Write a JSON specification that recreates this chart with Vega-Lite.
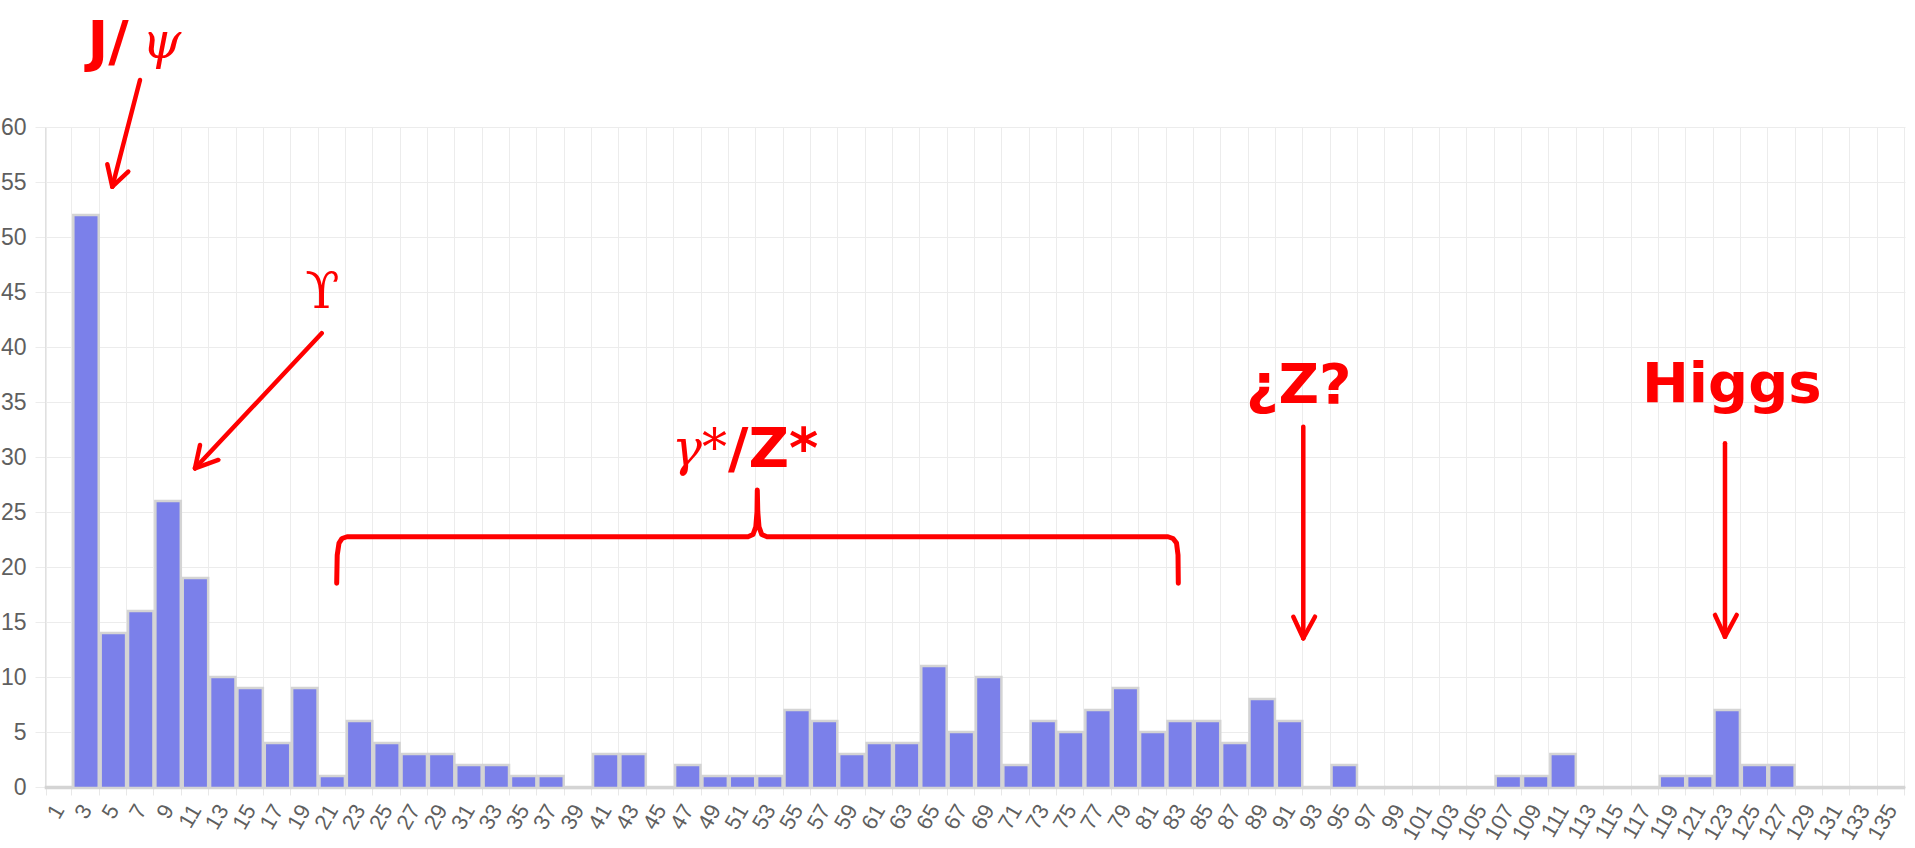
{
  "$schema": "https://vega.github.io/schema/vega-lite/v6.json",
  "width": 1860,
  "height": 660,
  "autosize": {"type": "none"},
  "padding": {"left": 45, "top": 127, "right": 10, "bottom": 61},
  "background": "white",
  "config": {
    "view": {"stroke": null},
    "font": "Liberation Sans"
  },
  "datasets": {
    "counts": [
      {"mass": 1, "count": 0}, {"mass": 3, "count": 52}, {"mass": 5, "count": 14}, {"mass": 7, "count": 16},
      {"mass": 9, "count": 26}, {"mass": 11, "count": 19}, {"mass": 13, "count": 10}, {"mass": 15, "count": 9},
      {"mass": 17, "count": 4}, {"mass": 19, "count": 9}, {"mass": 21, "count": 1}, {"mass": 23, "count": 6},
      {"mass": 25, "count": 4}, {"mass": 27, "count": 3}, {"mass": 29, "count": 3}, {"mass": 31, "count": 2},
      {"mass": 33, "count": 2}, {"mass": 35, "count": 1}, {"mass": 37, "count": 1}, {"mass": 39, "count": 0},
      {"mass": 41, "count": 3}, {"mass": 43, "count": 3}, {"mass": 45, "count": 0}, {"mass": 47, "count": 2},
      {"mass": 49, "count": 1}, {"mass": 51, "count": 1}, {"mass": 53, "count": 1}, {"mass": 55, "count": 7},
      {"mass": 57, "count": 6}, {"mass": 59, "count": 3}, {"mass": 61, "count": 4}, {"mass": 63, "count": 4},
      {"mass": 65, "count": 11}, {"mass": 67, "count": 5}, {"mass": 69, "count": 10}, {"mass": 71, "count": 2},
      {"mass": 73, "count": 6}, {"mass": 75, "count": 5}, {"mass": 77, "count": 7}, {"mass": 79, "count": 9},
      {"mass": 81, "count": 5}, {"mass": 83, "count": 6}, {"mass": 85, "count": 6}, {"mass": 87, "count": 4},
      {"mass": 89, "count": 8}, {"mass": 91, "count": 6}, {"mass": 93, "count": 0}, {"mass": 95, "count": 2},
      {"mass": 97, "count": 0}, {"mass": 99, "count": 0}, {"mass": 101, "count": 0}, {"mass": 103, "count": 0},
      {"mass": 105, "count": 0}, {"mass": 107, "count": 1}, {"mass": 109, "count": 1}, {"mass": 111, "count": 3},
      {"mass": 113, "count": 0}, {"mass": 115, "count": 0}, {"mass": 117, "count": 0}, {"mass": 119, "count": 1},
      {"mass": 121, "count": 1}, {"mass": 123, "count": 7}, {"mass": 125, "count": 2}, {"mass": 127, "count": 2},
      {"mass": 129, "count": 0}, {"mass": 131, "count": 0}, {"mass": 133, "count": 0}, {"mass": 135, "count": 0}
    ],
    "arrows": [
      {"x1": 3.473, "y1": 64.27, "x2": 2.460, "y2": 54.57},
      {"x1": 2.278, "y1": 56.61, "x2": 2.460, "y2": 54.57},
      {"x1": 3.045, "y1": 55.94, "x2": 2.460, "y2": 54.57},
      {"x1": 10.116, "y1": 41.25, "x2": 5.484, "y2": 28.97},
      {"x1": 5.667, "y1": 31.09, "x2": 5.484, "y2": 28.97},
      {"x1": 6.336, "y1": 29.73, "x2": 5.484, "y2": 28.97},
      {"x1": 46.002, "y1": 32.75, "x2": 46.002, "y2": 13.52},
      {"x1": 45.637, "y1": 15.48, "x2": 46.002, "y2": 13.52},
      {"x1": 46.430, "y1": 15.48, "x2": 46.002, "y2": 13.52},
      {"x1": 61.419, "y1": 31.25, "x2": 61.419, "y2": 13.66},
      {"x1": 61.054, "y1": 15.64, "x2": 61.419, "y2": 13.66},
      {"x1": 61.847, "y1": 15.64, "x2": 61.419, "y2": 13.66}
    ],
    "bracket": [
      {"i": 1, "x": 10.664, "y": 18.52}, {"i": 2, "x": 10.683, "y": 21.09}, {"i": 3, "x": 10.748, "y": 22.18},
      {"i": 4, "x": 10.858, "y": 22.59}, {"i": 5, "x": 11.041, "y": 22.75}, {"i": 6, "x": 25.701, "y": 22.75},
      {"i": 7, "x": 25.884, "y": 22.95}, {"i": 8, "x": 25.986, "y": 23.64}, {"i": 9, "x": 26.030, "y": 25.0},
      {"i": 10, "x": 26.041, "y": 27.0}, {"i": 11, "x": 26.059, "y": 25.0}, {"i": 12, "x": 26.103, "y": 23.64},
      {"i": 13, "x": 26.205, "y": 22.95}, {"i": 14, "x": 26.396, "y": 22.75}, {"i": 15, "x": 41.056, "y": 22.75},
      {"i": 16, "x": 41.239, "y": 22.59}, {"i": 17, "x": 41.367, "y": 22.18}, {"i": 18, "x": 41.422, "y": 21.09},
      {"i": 19, "x": 41.433, "y": 18.52}
    ],
    "hand": [
      {"label": "J/", "x": 1.55, "y": 66.09},
      {"label": "/Z*", "x": 24.97, "y": 29.09},
      {"label": "¿Z?", "x": 43.907, "y": 34.91},
      {"label": "Higgs", "x": 58.385, "y": 35.0}
    ],
    "mathItalic": [
      {"label": "ψ", "x": 3.55, "y": 66.27},
      {"label": "γ*", "x": 22.923, "y": 29.27}
    ],
    "mathUpright": [
      {"label": "ϒ", "x": 10.145, "y": 43.55}
    ]
  },
  "layer": [
    {
      "data": {"name": "counts"},
      "mark": {"type": "bar", "fill": "#7b80ea", "stroke": "#d4d4d4", "strokeWidth": 2.5},
      "encoding": {
        "x": {
          "field": "mass", "type": "ordinal", "sort": null,
          "scale": {"paddingInner": 0.07, "paddingOuter": 0.035},
          "axis": {
            "title": null, "labelAngle": -60, "tickBand": "extent", "labelFontSize": 22,
            "labelColor": "#5f5f5f", "labelPadding": 11, "tickSize": 8, "tickColor": "#e8e8e8",
            "grid": true, "gridColor": "#ececec", "domainColor": "#e0e0e0", "labelOverlap": false
          }
        },
        "y": {
          "field": "count", "type": "quantitative",
          "scale": {"domain": [0, 60], "nice": false},
          "axis": {
            "title": null, "values": [0, 5, 10, 15, 20, 25, 30, 35, 40, 45, 50, 55, 60],
            "labelFontSize": 23, "labelColor": "#5f5f5f", "labelPadding": 9, "tickSize": 10,
            "tickColor": "#ececec", "gridColor": "#ececec", "domainColor": "#e0e0e0"
          }
        },
        "y2": {"datum": -0.1}
      }
    },
    {
      "data": {"name": "arrows"},
      "mark": {"type": "rule", "color": "#ff0000", "strokeWidth": 4.5, "strokeCap": "round"},
      "encoding": {
        "x": {"field": "x1", "type": "quantitative", "scale": {"domain": [0, 68], "nice": false, "zero": false}, "axis": null},
        "x2": {"field": "x2"},
        "y": {"field": "y1", "type": "quantitative", "scale": {"domain": [0, 60], "nice": false}, "axis": {"title": null}},
        "y2": {"field": "y2"}
      }
    },
    {
      "data": {"name": "bracket"},
      "mark": {"type": "line", "color": "#ff0000", "strokeWidth": 5, "strokeCap": "round", "strokeJoin": "round"},
      "encoding": {
        "x": {"field": "x", "type": "quantitative", "scale": {"domain": [0, 68], "nice": false, "zero": false}, "axis": null},
        "y": {"field": "y", "type": "quantitative", "scale": {"domain": [0, 60], "nice": false}, "axis": {"title": null}},
        "order": {"field": "i", "type": "quantitative"}
      }
    },
    {
      "data": {"name": "hand"},
      "mark": {"type": "text", "color": "#ff0000", "font": "DejaVu Sans", "fontWeight": "bold", "fontSize": 56, "align": "left", "baseline": "alphabetic"},
      "encoding": {
        "x": {"field": "x", "type": "quantitative", "scale": {"domain": [0, 68], "nice": false, "zero": false}, "axis": null},
        "y": {"field": "y", "type": "quantitative", "scale": {"domain": [0, 60], "nice": false}, "axis": {"title": null}},
        "text": {"field": "label"}
      }
    },
    {
      "data": {"name": "mathItalic"},
      "mark": {"type": "text", "color": "#ff0000", "font": "DejaVu Serif", "fontStyle": "italic", "fontSize": 50, "align": "left", "baseline": "alphabetic"},
      "encoding": {
        "x": {"field": "x", "type": "quantitative", "scale": {"domain": [0, 68], "nice": false, "zero": false}, "axis": null},
        "y": {"field": "y", "type": "quantitative", "scale": {"domain": [0, 60], "nice": false}, "axis": {"title": null}},
        "text": {"field": "label"}
      }
    },
    {
      "data": {"name": "mathUpright"},
      "mark": {"type": "text", "color": "#ff0000", "font": "DejaVu Serif", "fontSize": 50, "align": "center", "baseline": "alphabetic"},
      "encoding": {
        "x": {"field": "x", "type": "quantitative", "scale": {"domain": [0, 68], "nice": false, "zero": false}, "axis": null},
        "y": {"field": "y", "type": "quantitative", "scale": {"domain": [0, 60], "nice": false}, "axis": {"title": null}},
        "text": {"field": "label"}
      }
    }
  ],
  "resolve": {"scale": {"x": "independent"}, "axis": {"x": "independent"}}
}
